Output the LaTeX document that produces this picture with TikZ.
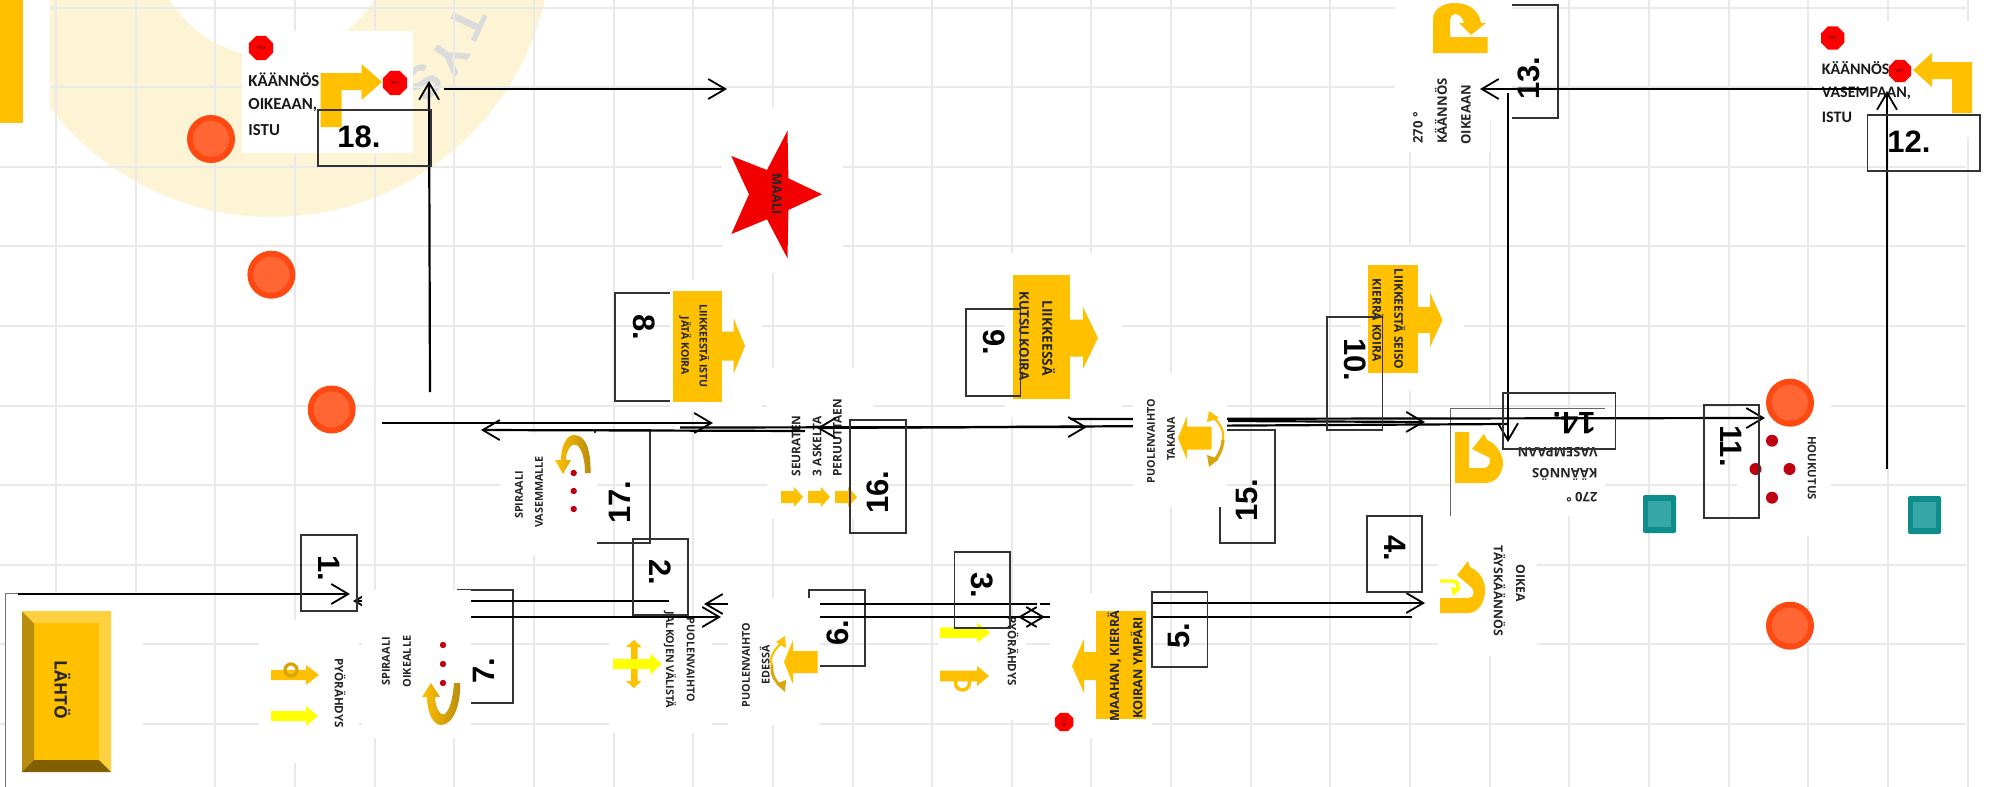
\documentclass[tikz,border=0pt]{standalone}
\usepackage{fontspec}
\usetikzlibrary{arrows.meta,shapes.geometric}
\setmainfont{Open Sans}
\newfontfamily\imgf[Scale=0.96]{Open Sans}
\newfontfamily\calf{Carlito}
\newfontfamily\numf{Liberation Sans}
\definecolor{orng}{HTML}{FFC000}
\definecolor{gold}{HTML}{D9A50F}
\definecolor{yel}{HTML}{FFFF00}
\definecolor{grd}{HTML}{E9E9E9}
\definecolor{ringc}{HTML}{FDF4D6}
\definecolor{conea}{HTML}{FE4A12}
\definecolor{coneb}{HTML}{FF6633}
\definecolor{teala}{HTML}{0F8C8C}
\definecolor{tealb}{HTML}{36A6A6}
\definecolor{dred}{HTML}{C00010}
\tikzset{
  flow/.style={draw=black,line width=1.1pt,-{Straight Barb[length=8.5pt,width=10pt,line width=0.9pt]}},
  numbox/.style={draw=black!80,line width=0.65pt},
  gridl/.style={draw=grd,line width=1pt},
  lab/.style={inner sep=0pt,font=\imgf\bfseries},
  cal/.style={inner sep=0pt,anchor=west,font=\calf\bfseries\fontsize{8.4}{8.4}\selectfont\color{black!90}},
  num/.style={inner sep=0pt,font=\numf\bfseries\fontsize{15.5}{15.5}\selectfont},
  stopn/.style={regular polygon,regular polygon sides=8,fill=red,inner sep=0pt,text=black!70!red,font=\calf\fontsize{2.4}{2.4}\selectfont},
}
% name, x, y, rotation, size, text
\newcommand\tx[6]{\node[lab,rotate=#4,font=\imgf\bfseries\fontsize{#5}{#5}\selectfont\color{black!85}] (#1) at (#2,#3) {#6};}
% name, x0, y0, x1, y1, textx, texty, rotation, text
\newcommand\nbox[9]{\path[numbox] (#2,#3) rectangle (#4,#5); \node[num,rotate=#8] (#1) at (#6,#7) {#9};}
\newcommand\patch[4]{\fill[white] (#1,#2) rectangle (#3,#4);}
% block arrows: x0, tip, head base, yc, half shaft, half head, colour
\newcommand\blk[7]{\fill[#7] (#1,{#4-#5}) -- (#3,{#4-#5}) -- (#3,{#4-#6}) -- (#2,#4) -- (#3,{#4+#6}) -- (#3,{#4+#5}) -- (#1,{#4+#5}) -- cycle;}
\newcommand\cone[2]{\fill[conea] (#1,#2) circle (24); \fill[coneb] (#1,#2) circle (18);}
\newcommand\teal[2]{\fill[teala,rounded corners=1pt] (#1,#2) rectangle +(33,38); \fill[tealb] ({#1+5},{#2+6}) rectangle +(23,26);}
\begin{document}
\begin{tikzpicture}[x=0.5pt,y=-0.5pt]
\useasboundingbox (0,0) rectangle (1992,787);
\clip (0,0) rectangle (1992,787);
\fill[white] (0,0) rectangle (1992,787);
% watermark ring
\fill[ringc,even odd rule] (272,-63) circle (280) (272,-63) circle (120);
\node[inner sep=0pt,rotate=-115,text=black!14,font=\numf\bfseries\fontsize{24}{24}\selectfont] (wmT) at (467,23) {T};
\node[inner sep=0pt,rotate=-125,text=black!14,font=\numf\bfseries\fontsize{24}{24}\selectfont] (wmY) at (450,57) {Y};
\node[inner sep=0pt,rotate=-133,text=black!14,font=\numf\bfseries\fontsize{24}{24}\selectfont] (wmS) at (424,82) {S};
% grid
\foreach \k in {0,...,24} \draw[gridl] ({56+79.65*\k},0) -- ({56+79.65*\k},787);
\foreach \k in {0,...,9} \draw[gridl] (0,{7.5+79.6*\k}) -- (1966,{7.5+79.6*\k});
\patch{0}{0}{50}{150}
\fill[orng] (0,0) rectangle (23,123);
% boxes that lie under the pictures
\path[numbox] (458,590) rectangle (513,703);
\path[numbox] (809,590) rectangle (865,666);
\path[numbox] (1220,430) rectangle (1275,543);
\path[numbox] (615,293) rectangle (680,401);
\path[numbox] (1500,5) rectangle (1558,118);
\path[numbox] (595,430) rectangle (650,543);
% picture 18
\patch{241.5}{31}{413}{153}
\node[stopn,minimum size=13pt] (st18a) at (261,48) {ISTU};
\node[cal] (t18a) at (248,80) {KÄÄNNÖS};
\node[cal] (t18b) at (248,105) {OIKEAAN,};
\node[cal] (t18c) at (248,130) {ISTU};
\fill[orng] (320.5,73) -- (361.5,73) -- (361.5,64) -- (382,82) -- (361.5,100) -- (361.5,90) -- (341.5,90) -- (341.5,127) -- (320.5,127) -- cycle;
\node[stopn,minimum size=13pt] (st18b) at (395,83) {ISTU};
% picture 12
\patch{1812}{22}{1980}{137}
\node[stopn,minimum size=12.5pt] (st12a) at (1832.7,38) {ISTU};
\node[cal,font=\calf\bfseries\fontsize{8}{8}\selectfont\color{black!90}] (t12a) at (1821.5,68) {KÄÄNNÖS};
\node[cal,font=\calf\bfseries\fontsize{8}{8}\selectfont\color{black!90}] (t12b) at (1821.5,93) {VASEMPAAN,};
\node[cal,font=\calf\bfseries\fontsize{8}{8}\selectfont\color{black!90}] (t12c) at (1821.5,117) {ISTU};
\fill[orng] (1972,113) -- (1972,62) -- (1932,62) -- (1932,53) -- (1913,70) -- (1932,87) -- (1932,79) -- (1952,79) -- (1952,113) -- cycle;
\node[stopn,minimum size=12pt] (st12b) at (1900,71) {ISTU};
% picture 13
\patch{1395}{0}{1512}{120}
\patch{1408}{120}{1490}{152}
\fill[orng] (1433,53) -- (1433,20) .. controls (1433,8) and (1444,3) .. (1455,3) .. controls (1468,3) and (1479,10) .. (1481,23) -- (1486,23) -- (1471,35) -- (1459,23) -- (1464,23) .. controls (1463,17) and (1458,14) .. (1455,14) .. controls (1452,14) and (1450,17) .. (1450,20) -- (1450,37) -- (1487.5,37) -- (1487.5,53) -- cycle;
\tx{t13c}{1418}{128}{90}{6.8}{270 °}
\tx{t13a}{1441}{111}{90}{6.8}{KÄÄNNÖS}
\tx{t13b}{1466}{115}{90}{6.8}{OIKEAAN}
% picture 8
\patch{670}{280}{762}{411}
\fill[orng] (673,291) rectangle (721.5,402);
\blk{721}{745}{733.5}{346}{14.5}{28}{orng}
\tx{t8a}{704.5}{346}{-90}{5.5}{LIIKKEESTÄ ISTU}
\tx{t8b}{685}{346}{-90}{5.5}{JÄTÄ KOIRA}
% star
\patch{722}{108}{843}{273}
\fill[red!95!black] (822,194.3) -- (788.4,178.3) -- (787.5,130.7) -- (767,170) -- (731.3,156) -- (749,194.3) -- (731.3,234) -- (767,219.3) -- (787.5,258.3) -- (788.4,210) -- cycle;
\tx{tmaali}{777}{194}{-90}{6.6}{MAALI}
% picture 9
\patch{1005}{253}{1122}{417}
\fill[orng] (1012.5,275) rectangle (1070,399);
\blk{1069}{1098}{1083}{338}{18.5}{31}{orng}
\tx{t9a}{1048.7}{338}{-90}{7.2}{LIIKKEESSÄ}
\tx{t9b}{1024}{336}{-90}{6.9}{KUTSU KOIRA}
% picture 10
\patch{1361}{247}{1464}{391}
\fill[orng] (1368,265) rectangle (1418,373);
\blk{1417}{1442.5}{1430}{320}{13}{27}{orng}
\tx{t10a}{1399.7}{319}{-90}{6.2}{LIIKKEESTÄ SEISO}
\tx{t10b}{1378}{320}{-90}{6.2}{KIERRÄ KOIRA}
% picture 16
\patch{767}{368}{873}{519}
\tx{t16a}{796}{446}{90}{6.2}{SEURATEN}
\tx{t16b}{817}{446}{90}{6.2}{3 ASKELTA}
\tx{t16c}{837.5}{438}{90}{6.2}{PERUUTTAEN}
\blk{781}{803}{794}{497}{6}{10}{orng}
\blk{808}{830}{821}{497}{6}{10}{orng}
\blk{835}{857}{848}{497}{6}{10}{orng}
% picture 17
\patch{500}{433}{597}{555}
\tx{t17a}{519}{495}{90}{5.6}{SPIRAALI}
\tx{t17b}{539}{492}{90}{5.6}{VASEMMALLE}
\foreach \yy in {473,491,509} \fill[dred] (573.7,\yy) circle (3.2);
\shade[left color=orng,right color=gold!85!black] (590.5,473) .. controls (591,450) and (586,435) .. (574,435) .. controls (566,435) and (561,447) .. (561,460) -- (555,460) -- (563,474) -- (571,460) -- (566,460) .. controls (566,450) and (572,442) .. (577,445) .. controls (582,449) and (585,460) .. (585,473) -- cycle;
% picture 14
\patch{1450}{408}{1605}{516}
\draw[black!60,line width=0.35pt] (1450,516) -- (1450,408) -- (1605,408);
\fill[orng] (1455,432) -- (1469,432) -- (1469,468) -- (1484,468) .. controls (1490,468) and (1491,460) .. (1489,456) -- (1492,459) -- (1472,449) -- (1484,434) -- (1487,440) .. controls (1500,445) and (1503,460) .. (1503,462) .. controls (1503,475) and (1495,483) .. (1485,483) -- (1455,483) -- cycle;
\node[lab,rotate=180,anchor=west,font=\imgf\bfseries\fontsize{6.8}{6.8}\selectfont\color{black!85}] (t14a) at (1598,452) {VASEMPAAN};
\node[lab,rotate=180,anchor=west,font=\imgf\bfseries\fontsize{6.8}{6.8}\selectfont\color{black!85}] (t14b) at (1598,474) {KÄÄNNÖS};
\node[lab,rotate=180,anchor=west,font=\imgf\bfseries\fontsize{6.8}{6.8}\selectfont\color{black!85}] (t14c) at (1598,497) {270 °};
% picture 11
\patch{1737}{400}{1831}{536}
\tx{t11}{1812}{468}{-90}{5.9}{HOUKUTUS}
\foreach \ax/\ay in {1772/440.7,1755.5/469,1789.5/469,1772/497.7} \fill[dred] (\ax,\ay) circle (6);
% picture 4
\patch{1438}{516}{1537}{656}
\fill[orng] (1440,598) -- (1468,598) .. controls (1474,598) and (1475,592) .. (1472,588) -- (1457,575) -- (1468,561) -- (1470,567) .. controls (1480,572) and (1485,580) .. (1485,590) .. controls (1485,603) and (1478,613) .. (1468,613) -- (1440,613) -- cycle;
\draw[yel,line width=1.7pt] (1440,581) -- (1452,581) .. controls (1458,581) and (1460,586) .. (1456,590);
\fill[yel] (1461,589) -- (1451,587) -- (1453,596) -- cycle;
\tx{t4a}{1520.6}{583}{-90}{6.4}{OIKEA}
\tx{t4b}{1499.5}{591}{-90}{6.4}{TÄYSKÄÄNNÖS}
% start button
\patch{5}{593}{143}{787}
\draw[black!55,line width=0.35pt] (5,787) -- (5,593) -- (143,593);
\fill[orng] (22,611) rectangle (111,772);
\fill[gold!85!black] (22,611) -- (34,623) -- (34,760) -- (22,772) -- cycle;
\fill[orng!75!white] (22,611) -- (111,611) -- (99,623) -- (34,623) -- cycle;
\fill[orng!75!white] (111,611) -- (111,772) -- (99,760) -- (99,623) -- cycle;
\fill[orng!50!black] (22,772) -- (34,760) -- (99,760) -- (111,772) -- cycle;
\tx{tstart}{62.5}{690}{-90}{9}{LÄHTÖ}
% picture 1 (pyörähdys)
\patch{259}{620}{359}{763}
\tx{t1p}{340}{693}{-90}{6}{PYÖRÄHDYS}
\blk{271}{319}{306}{675}{5}{10}{orng}
\draw[orng!85!black,line width=1.6pt] (291,670) circle (6);
\blk{271}{318}{306}{716}{5}{10}{yel}
% picture 2
\patch{609}{617}{712}{733}
\tx{t2a}{690.6}{660}{-90}{5.6}{PUOLENVAIHTO}
\tx{t2b}{670}{660}{-90}{5.6}{JALKOJEN VÄLISTÄ}
\fill[orng] (631,647) -- (626,647) -- (634,640) -- (641.5,647) -- (637.5,647) -- (637.5,681) -- (641.5,681) -- (634,688) -- (626,681) -- (631,681) -- cycle;
\blk{613}{662}{650}{664}{5}{10.5}{yel}
% picture 3
\patch{938}{627}{1026}{720}
\tx{t3p}{1013}{651}{-90}{6}{PYÖRÄHDYS}
\blk{940}{990.5}{977}{632.7}{5.3}{10}{yel}
\blk{940}{989}{977}{676}{5.3}{10}{orng}
\draw[orng,line width=1.7pt] (962.5,683) circle (7);
% connectors that run under pictures
\coordinate (p7a) at (669,601);  \coordinate (p7b) at (353,601);
\coordinate (p2a) at (465,617);  \coordinate (p2b) at (721,617);
\coordinate (p6a) at (1050,604); \coordinate (p6b) at (704,604);
\coordinate (p3a) at (820,617);  \coordinate (p3b) at (1045,617);
\coordinate (p5a) at (1412,617); \coordinate (p5b) at (1018,617);
\coordinate (p15a) at (1508,424);\coordinate (p15b) at (817,428);
\coordinate (p11a) at (1070,419);\coordinate (p11b) at (1765,418);
\draw[flow] (p7a) -- (p7b);
\draw[flow] (p2a) -- (p2b);
\draw[flow] (p6a) -- (p6b);
\draw[flow] (p3a) -- (p3b);
\draw[flow] (p5a) -- (p5b);
\draw[flow] (p15a) -- (p15b);
\draw[flow] (p11a) -- (p11b);
\patch{1037}{600}{1040}{608}
% picture 7
\patch{362}{590}{471}{738}
\tx{t7a}{386}{661.5}{90}{5.7}{SPIRAALI}
\tx{t7b}{407}{661.5}{90}{5.7}{OIKEALLE}
\foreach \yy in {645,664,683} \fill[dred] (443,\yy) circle (3.2);
\shade[left color=orng,right color=gold!85!black] (460,683) .. controls (461,705) and (453,725) .. (441,725) .. controls (433,725) and (427,712) .. (427,697) -- (422,697) -- (431,683) -- (440,697) -- (435,697) .. controls (435,708) and (441,717) .. (445,714) .. controls (451,708) and (453,695) .. (454,683) -- cycle;
% picture 6
\patch{728}{598}{820}{725}
\tx{t6a}{746}{665}{90}{5.6}{PUOLENVAIHTO}
\tx{t6b}{764.7}{665}{90}{5.6}{EDESSÄ}
\blk{817.5}{784}{793}{662}{11}{22}{orng}
\draw[orng,line width=1.1pt] (783,642) .. controls (770,652) and (770,662) .. (772,665);
\draw[gold,line width=1.4pt] (772,665) .. controls (771,675) and (775,682) .. (783,687);
\fill[orng] (785,636) -- (776,642) -- (786,648) -- cycle;
\fill[gold] (785,692) -- (776,684) -- (786,680) -- cycle;
% picture 5
\patch{1050}{593}{1152}{738}
\fill[orng] (1095.5,611) rectangle (1146,719);
\blk{1096}{1072}{1084}{666}{14}{27}{orng}
\node[stopn,minimum size=10pt,rotate=90] (st5) at (1064,722) {ISTU};
\tx{t5a}{1114}{666}{90}{6.6}{MAAHAN, KIERRÄ}
\tx{t5b}{1136.6}{668}{90}{6.6}{KOIRAN YMPÄRI}
% picture 15
\patch{1133}{373}{1227}{507}
\tx{t15a}{1151}{441}{90}{5.6}{PUOLENVAIHTO}
\tx{t15b}{1171}{439}{90}{5.6}{TAKANA}
\blk{1211.5}{1178}{1187}{438}{11.5}{22}{orng}
\draw[orng,line width=1.1pt] (1212,416) .. controls (1222,425) and (1224,432) .. (1223,440);
\draw[gold,line width=1.6pt] (1223,440) .. controls (1222,450) and (1218,458) .. (1212,462);
\fill[orng] (1209,411) -- (1207,422) -- (1219,418) -- cycle;
\fill[gold] (1209,467) -- (1207,455) -- (1219,459) -- cycle;
% connectors above the pictures
\coordinate (p1a) at (18,594);    \coordinate (p1b) at (350,594);
\coordinate (p8a) at (382,423);   \coordinate (p8b) at (713,423);
\coordinate (p9a) at (680,427.5); \coordinate (p9b) at (1087,427);
\coordinate (p17a) at (805,431);  \coordinate (p17b) at (481,430);
\coordinate (p10a) at (1228,421); \coordinate (p10b) at (1425,422);
\coordinate (p4a) at (1153,603);  \coordinate (p4b) at (1425,603);
\coordinate (p18a) at (430,392);  \coordinate (p18b) at (429,81);
\coordinate (pmaa) at (444,89);   \coordinate (pmab) at (727,89);
\coordinate (p13a) at (1866,89);  \coordinate (p13b) at (1480,89);
\coordinate (p12a) at (1887,469); \coordinate (p12b) at (1887,91);
\coordinate (p14a) at (1508,93);  \coordinate (p14b) at (1508,442);
\draw[flow] (p1a) -- (p1b);
\draw[flow] (p8a) -- (p8b);
\draw[flow] (p9a) -- (p9b);
\draw[flow] (p17a) -- (p17b);
\draw[flow] (p10a) -- (p10b);
\draw[flow] (p4a) -- (p4b);
\draw[flow] (p18a) -- (p18b);
\draw[flow] (pmaa) -- (pmab);
\draw[flow] (p13a) -- (p13b);
\draw[flow] (p12a) -- (p12b);
\draw[flow] (p14a) -- (p14b);
% cones and markers
\cone{211}{139}
\cone{271.4}{274.7}
\cone{331.7}{409.5}
\cone{1790}{402.7}
\cone{1790}{625.7}
\teal{1643}{495}
\teal{1908}{496}
% number boxes and numbers
\node[num,rotate=90] (n7) at (484,671) {7.};
\node[num,rotate=90] (n6) at (837.5,633) {6.};
\node[num,rotate=90] (n15) at (1247,500) {15.};
\node[num,rotate=-90] (n8) at (644,327) {8.};
\node[num,rotate=90] (n13) at (1529,78) {13.};
\node[num,rotate=90] (n17) at (620,502) {17.};
\nbox{n1}{301}{535}{357}{611}{329}{568}{-90}{1.}
\nbox{n2}{633}{539}{688}{615}{660}{572}{-90}{2.}
\nbox{n3}{954.5}{552}{1010}{628}{982.6}{585}{-90}{3.}
\nbox{n4}{1367}{516}{1422}{592}{1395}{548}{-90}{4.}
\nbox{n5}{1152}{592}{1207.5}{667}{1179}{636}{90}{5.}
\nbox{n9}{966}{309}{1020.5}{396}{994}{342}{-90}{9.}
\nbox{n10}{1327}{317}{1382.5}{430}{1355}{360}{-90}{10.}
\nbox{n11}{1704}{405}{1759}{518}{1731.6}{446}{-90}{11.}
\nbox{n12}{1867.5}{115}{1980}{171}{1909}{142}{0}{12.}
\nbox{n14}{1503}{393}{1615.5}{449}{1574}{423}{180}{14.}
\nbox{n16}{850}{420}{906}{533}{878}{492}{90}{16.}
\nbox{n18}{318}{110}{431}{166}{359}{137}{0}{18.}
\end{tikzpicture}
\end{document}
